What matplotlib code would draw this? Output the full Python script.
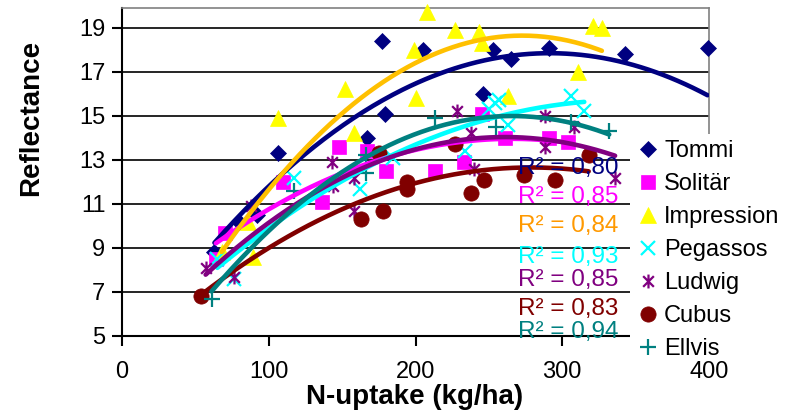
import numpy as np
import matplotlib
matplotlib.use("Agg")
import matplotlib.pyplot as plt
from matplotlib.path import Path
from matplotlib.lines import Line2D

plt.rcParams['font.family'] = ['Liberation Sans', 'DejaVu Sans']

# ---------------- data ----------------
series_names = ["Tommi", "Solitär", "Impression", "Pegassos", "Ludwig", "Cubus", "Ellvis"]

# last Tommi point lies behind the legend (implied by the bending trendline)
tommi_x = [63, 80, 92, 106, 167, 177, 179, 205, 246, 253, 265, 291, 343, 399, 356]
tommi_y = [8.8, 10.2, 10.5, 13.3, 14.0, 18.4, 15.1, 18.0, 16.0, 18.0, 17.6, 18.1, 17.8, 18.1, 13.8]

solitar_x = [64, 70, 110, 136, 148, 167, 180, 213, 233, 245, 261, 291, 304]
solitar_y = [8.5, 9.7, 12.0, 11.1, 13.6, 13.4, 12.5, 12.5, 12.9, 15.1, 14.0, 14.0, 13.8]

impression_x = [68, 86, 89, 106, 152, 158, 199, 200, 208, 227, 243, 245, 263, 311, 321, 327]
impression_y = [8.8, 10.2, 8.6, 14.9, 16.2, 14.2, 18.0, 15.8, 19.7, 18.9, 18.8, 18.3, 15.9, 17.0, 19.1, 19.0]

pegassos_x = [65, 76, 117, 162, 185, 234, 250, 254, 257, 263, 306, 315]
pegassos_y = [8.5, 7.6, 12.2, 11.7, 13.1, 13.4, 15.3, 15.6, 15.7, 14.6, 15.9, 15.2]

ludwig_x = [57, 76, 88, 143, 144, 158, 158, 228, 238, 240, 288, 288, 308, 336]
ludwig_y = [8.1, 7.7, 10.9, 12.9, 11.8, 12.2, 10.7, 15.2, 14.2, 12.6, 15.0, 13.6, 14.5, 12.2]

cubus_x = [54, 163, 175, 178, 194, 194, 227, 238, 247, 274, 295, 318]
cubus_y = [6.8, 10.3, 13.3, 10.7, 12.0, 11.7, 13.7, 11.5, 12.1, 12.3, 12.1, 13.2]

ellvis_x = [61, 117, 166, 166, 213, 255, 306, 332]
ellvis_y = [6.7, 11.6, 13.2, 12.4, 14.9, 14.5, 14.7, 14.3]

r2_labels = ["R² = 0,80", "R² = 0,85", "R² = 0,84", "R² = 0,93", "R² = 0,85", "R² = 0,83", "R² = 0,94"]

x_ticks = [0, 100, 200, 300, 400]
y_ticks = [5, 7, 9, 11, 13, 15, 17, 19]

# ---------------- styles ----------------
asterisk = Path([(-1, -1), (1, 1), (-1, 1), (1, -1), (0, -1.3), (0, 1.3)],
                [Path.MOVETO, Path.LINETO, Path.MOVETO, Path.LINETO, Path.MOVETO, Path.LINETO])

xs_all = [tommi_x, solitar_x, impression_x, pegassos_x, ludwig_x, cubus_x, ellvis_x]
ys_all = [tommi_y, solitar_y, impression_y, pegassos_y, ludwig_y, cubus_y, ellvis_y]
marker_col = ["#000080", "#FF00FF", "#FFFF00", "#00FFFF", "#800080", "#800000", "#008080"]
line_col = ["#000080", "#FF00FF", "#FFC000", "#00FFFF", "#800080", "#800000", "#008080"]
text_col = ["#000080", "#FF00FF", "#FF9900", "#00FFFF", "#800080", "#800000", "#008080"]
markers = ["D", "s", "^", "x", asterisk, "o", "+"]
msizes = [8.5, 10, 11, 10.5, 10, 11, 11.5]
filled = [True, True, True, False, False, True, False]

W, H = 794, 418
fig = plt.figure(figsize=(W / 100, H / 100), dpi=100)
ax = fig.add_axes([122 / W, (H - 336) / H, (709 - 122) / W, (336 - 8) / H])
ax.set_xlim(0, 400)
ax.set_ylim(5, 19.9)
ax.set_xticks(x_ticks)
ax.set_yticks(y_ticks)
ax.yaxis.grid(True, color="black", lw=1.2)
ax.set_axisbelow(True)
for s in ["top", "right"]:
    ax.spines[s].set_color("#808080")
    ax.spines[s].set_linewidth(1.2)
for s in ["left", "bottom"]:
    ax.spines[s].set_color("black")
    ax.spines[s].set_linewidth(1.5)
ax.tick_params(direction="out", length=7, width=1.5, labelsize=17)
ax.tick_params(axis="x", pad=11)
ax.tick_params(axis="y", pad=5)

handles = []
for i in range(7):
    x = np.array(xs_all[i], float)
    y = np.array(ys_all[i], float)
    kw = dict(marker=markers[i], markersize=msizes[i], linestyle="none")
    if filled[i]:
        kw.update(markerfacecolor=marker_col[i], markeredgecolor=marker_col[i], markeredgewidth=0.5)
    else:
        kw.update(markerfacecolor="none", markeredgecolor=marker_col[i], markeredgewidth=1.6)
    ax.plot(x, y, zorder=3, clip_on=False, **kw)
    handles.append(Line2D([], [], label=series_names[i], **kw))
    c = np.polyfit(x, y, 2)
    xx = np.linspace(x.min(), x.max(), 200)
    ax.plot(xx, np.polyval(c, xx), color=line_col[i], lw=3.3, zorder=4,
            solid_capstyle="round")

# R² labels
r2_y = [168, 197, 226, 257, 280, 309, 332]
for i in range(7):
    fig.text(618 / W, 1 - r2_y[i] / H, r2_labels[i], color=text_col[i], fontsize=17.5,
             ha="right", va="center", zorder=6)

ax.set_xlabel("N-uptake (kg/ha)", fontsize=20, fontweight="bold")
ax.set_ylabel("Reflectance", fontsize=20, fontweight="bold")
ax.xaxis.set_label_coords((415 - 122) / 587, (336 - 384) / 328)
ax.yaxis.set_label_coords((44 - 122) / 587, 0.5 + (172 - 118) / 328)

leg = ax.legend(handles=handles, loc="upper left", bbox_to_anchor=(630 / W, 1 - 134 / H),
                bbox_transform=fig.transFigure,
                frameon=True, facecolor="white", edgecolor="none", framealpha=1,
                fontsize=17, handlelength=1.0, handletextpad=0.2, labelspacing=0.47,
                borderpad=0.25, borderaxespad=0, fancybox=False)
leg.set_zorder(5)
# x tick labels stay visible in front of the legend box; the covered tick mark at 400 is hidden
ax.xaxis.set_zorder(6)
ax.xaxis.get_major_ticks()[-1].tick1line.set_visible(False)

fig.savefig("out.png", dpi=100)
